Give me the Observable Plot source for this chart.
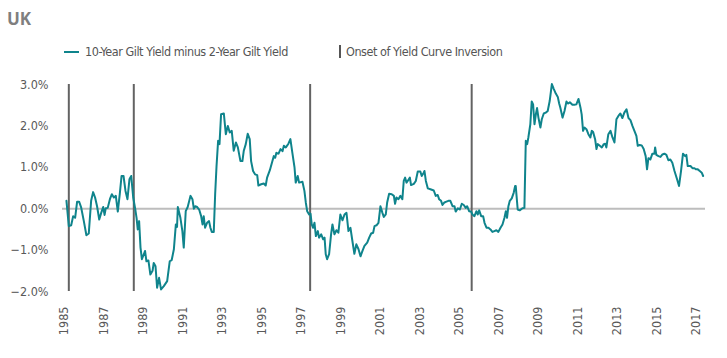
<!DOCTYPE html>
<html>
<head>
<meta charset="utf-8">
<script src="https://cdn.jsdelivr.net/npm/d3@7"></script>
<script src="https://cdn.jsdelivr.net/npm/@observablehq/plot@0.6"></script>
<style>
  html, body { margin: 0; padding: 0; background: #fff; }
  #wrap { position: relative; width: 727px; height: 358px; overflow: hidden;
          font-family: "Liberation Sans Narrow", "DejaVu Sans Condensed", "Arial Narrow", sans-serif; }
  #title { position: absolute; left: 7px; top: 7px; font-family: "Open Sans", "Liberation Sans", sans-serif;
           font-weight: 700; font-size: 17px; color: #7f7f7f; }
  .leg { position: absolute; top: 44px; font-size: 12.5px; letter-spacing: -0.45px; color: #555; white-space: nowrap; line-height: 16px; }
  .sw-line { display: inline-block; width: 15px; height: 2px; background: #0f848c; vertical-align: middle; margin-right: 6px; position: relative; top: -1px; }
  .sw-bar { display: inline-block; width: 2px; height: 13px; background: #555; vertical-align: middle; margin-right: 5px; position: relative; top: -1px; }
  #chart { position: absolute; left: 0; top: 70px; }
</style>
</head>
<body>
<div id="wrap">
  <div id="title">UK</div>
  <div class="leg" style="left:64px"><span class="sw-line"></span>10-Year Gilt Yield minus 2-Year Gilt Yield</div>
  <div class="leg" style="left:339px"><span class="sw-bar"></span>Onset of Yield Curve Inversion</div>
  <div id="chart"></div>
</div>
<script>
// Decimal year of each observation
const years = [
1985.10,1985.22,1985.34,1985.44,1985.54,1985.64,1985.74,1985.84,1985.98,1986.11,1986.23,1986.35,1986.45,1986.55,1986.65,1986.76,1986.86,1986.96,1987.03,1987.09,1987.19,1987.30,1987.40,1987.50,1987.60,1987.70,1987.80,1987.89,1987.99,1988.09,1988.19,1988.29,1988.38,1988.48,1988.58,1988.65,1988.71,1988.78,1988.85,1988.92,1989.02,1989.08,1989.15,1989.25,1989.35,1989.46,1989.52,
1989.61,1989.69,1989.79,1989.89,1990.03,1990.20,1990.33,1990.43,1990.54,1990.64,1990.70,1990.74,1990.87,1990.97,1991.04,1991.14,1991.24,1991.38,1991.48,1991.55,1991.62,1991.72,1991.82,1991.92,1991.99,1992.05,1992.12,1992.22,1992.32,1992.39,1992.46,1992.56,1992.63,1992.70,1992.78,1992.85,1992.93,1993.07,1993.17,1993.27,1993.37,1993.47,1993.57,1993.68,1993.78,1993.91,1994.01,1994.08,
1994.18,1994.28,1994.38,1994.45,1994.55,1994.65,1994.76,1994.82,1994.96,1995.09,1995.19,1995.26,1995.40,1995.53,1995.60,1995.67,1995.73,1995.84,1995.94,1996.04,1996.11,1996.21,1996.34,1996.44,1996.54,1996.65,1996.71,1996.81,1996.88,1997.05,1997.15,1997.22,1997.29,1997.39,1997.46,1997.52,1997.59,1997.66,1997.73,1997.83,1997.89,1998.00,1998.10,1998.17,1998.23,1998.30,1998.40,1998.50,1998.57,1998.67,
1998.77,1998.87,1998.97,1999.08,1999.18,1999.28,1999.38,1999.48,1999.58,1999.68,1999.78,1999.89,1999.99,2000.09,2000.19,2000.33,2000.43,2000.53,2000.63,2000.70,2000.80,2000.90,2001.00,2001.10,2001.17,2001.27,2001.34,2001.44,2001.57,2001.68,2001.74,2001.81,2001.91,2002.01,2002.11,2002.18,2002.25,2002.32,2002.38,2002.49,2002.55,2002.69,2002.79,2002.89,2003.02,2003.09,2003.19,
2003.23,2003.30,2003.40,2003.53,2003.70,2003.80,2003.90,2003.97,2004.07,2004.14,2004.24,2004.34,2004.44,2004.54,2004.65,2004.75,2004.81,2004.92,2005.02,2005.12,2005.22,2005.32,2005.39,2005.49,2005.59,2005.66,2005.76,2005.86,2005.93,2006.00,2006.10,2006.20,2006.27,2006.37,2006.47,2006.57,2006.67,2006.77,2006.87,2006.97,2007.08,2007.18,2007.28,2007.35,2007.41,2007.48,2007.55,2007.65,2007.75,2007.82,
2007.85,2007.95,2008.05,2008.19,2008.29,2008.36,2008.43,2008.49,2008.59,2008.66,2008.73,2008.80,2008.87,2008.93,2009.00,2009.10,2009.17,2009.27,2009.37,2009.47,2009.57,2009.68,2009.78,2009.88,2009.98,2010.05,2010.11,2010.22,2010.32,2010.42,2010.49,2010.59,2010.72,2010.82,2010.92,2011.03,2011.13,2011.19,2011.26,2011.33,2011.43,2011.53,2011.63,2011.70,2011.77,2011.87,2011.94,2012.00,2012.11,2012.21,2012.31,2012.38,
2012.44,2012.54,2012.65,2012.75,2012.85,2012.95,2013.05,2013.15,2013.25,2013.35,2013.46,2013.56,2013.66,2013.76,2013.86,2013.96,2014.03,2014.13,2014.23,2014.33,2014.43,2014.50,2014.57,2014.67,2014.77,2014.87,2014.91,2014.97,2015.08,2015.18,2015.28,2015.38,2015.48,2015.58,2015.68,2015.78,2015.89,2016.02,2016.12,2016.22,2016.32,2016.43,2016.49,2016.56,2016.70,2016.80,2016.90,2016.97,2017.07,2017.17,2017.27,2017.34
];
// 10-year minus 2-year gilt yield, percentage points
const spread = [
0.19,-0.42,-0.40,-0.18,-0.22,0.17,0.17,0.04,-0.30,-0.64,-0.60,0.19,0.40,0.27,0.06,-0.26,-0.10,0.04,-0.15,0.01,0.02,0.23,0.35,0.27,0.31,-0.07,0.35,0.79,0.79,0.43,0.23,0.71,0.79,0.27,0.00,-0.22,-0.50,-0.30,-0.94,-1.22,-1.10,-1.02,-1.27,-1.25,-1.59,-1.50,-1.31,
-1.39,-1.91,-1.67,-1.95,-1.87,-1.75,-1.27,-1.24,-0.98,-0.38,-0.44,0.04,-0.22,-0.54,-0.94,-0.06,0.04,0.31,0.23,0.00,0.06,0.04,-0.02,-0.18,-0.38,-0.18,-0.46,-0.34,-0.30,-0.46,-0.56,-0.56,0.35,1.03,1.64,1.56,2.28,2.30,1.80,2.00,1.84,1.88,1.40,1.60,1.48,1.15,1.15,1.40,
1.56,1.81,1.68,1.15,0.91,0.83,0.81,0.56,0.59,0.61,0.56,0.75,0.93,1.15,1.27,1.23,1.35,1.33,1.44,1.39,1.52,1.48,1.57,1.68,1.35,0.99,0.63,0.79,0.63,0.65,0.43,0.15,-0.06,-0.14,-0.12,-0.38,-0.46,-0.34,-0.66,-0.54,-0.70,-0.62,-0.74,-0.70,-1.10,-1.22,-1.10,-0.62,-0.38,-0.62,
-0.52,-0.58,-0.14,-0.28,-0.14,-0.10,-0.54,-0.46,-0.78,-1.09,-0.86,-0.98,-1.15,-1.02,-0.90,-0.82,-0.70,-0.60,-0.58,-0.42,-0.40,-0.34,0.06,-0.10,-0.20,-0.14,0.15,0.36,0.35,0.31,0.12,0.27,0.23,0.31,0.23,0.67,0.75,0.63,0.67,0.75,0.57,0.60,0.67,0.90,0.90,0.79,0.87,
0.91,0.67,0.49,0.47,0.44,0.31,0.33,0.23,0.19,0.09,0.15,0.17,0.19,0.19,0.06,0.06,-0.07,0.01,-0.02,0.12,0.09,0.02,0.06,-0.06,-0.07,-0.14,-0.18,-0.06,-0.14,-0.04,-0.18,-0.18,-0.34,-0.46,-0.46,-0.50,-0.56,-0.54,-0.52,-0.56,-0.46,-0.38,-0.22,-0.06,-0.22,0.06,0.19,0.25,0.39,0.55,
0.55,-0.02,-0.04,0.01,0.02,1.64,1.56,1.72,2.04,2.59,2.52,2.04,2.28,2.43,2.20,1.96,2.16,2.30,2.32,2.36,2.60,3.01,2.89,2.78,2.70,2.54,2.44,2.20,2.36,2.59,2.54,2.57,2.51,2.51,2.52,2.65,2.44,2.28,1.88,1.96,1.92,1.80,1.72,1.88,1.85,1.68,1.44,1.56,1.52,1.48,1.56,1.57,
1.48,1.80,1.88,1.72,1.60,2.16,2.24,2.30,2.19,2.32,2.40,2.19,2.14,2.00,1.88,1.76,1.52,1.54,1.53,1.44,1.27,0.95,1.22,1.19,1.33,1.33,1.48,1.30,1.27,1.25,1.31,1.33,1.30,1.17,1.19,1.11,0.91,0.71,0.55,0.91,1.33,1.27,1.30,1.03,1.03,0.98,0.98,0.95,0.95,0.91,0.87,0.79
];
// Onset of yield curve inversion (decimal years)
const inversionOnsets = [1985.22, 1988.51, 1997.44, 2005.62];
// Tick labels
const xTicks = [1985,1987,1989,1991,1993,1995,1997,1999,2001,2003,2005,2007,2009,2011,2013,2015,2017];
const yTicks = [-2, -1, 0, 1, 2, 3];

const data = years.map((y, i) => ({year: y, value: spread[i]}));
const fmtPct = d => (d < 0 ? "\u2212" : "") + Math.abs(d).toFixed(1) + "%";

const chart = Plot.plot({
  width: 727,
  height: 288,
  marginLeft: 62,
  marginRight: 22,
  marginTop: 14,
  marginBottom: 67,
  style: {fontFamily: '"Liberation Sans Narrow", "DejaVu Sans Condensed", sans-serif', fontSize: "12.5px", color: "#595959", background: "transparent"},
  x: {domain: [1984.9, 2017.46], ticks: xTicks, tickFormat: d => String(d), tickRotate: -90, tickSize: 0, tickPadding: 15, label: null},
  y: {domain: [-2, 3], ticks: yTicks, tickFormat: fmtPct, tickSize: 0, tickPadding: 14, label: null},
  marks: [
    Plot.ruleY([0], {stroke: "#bdbdbd", strokeWidth: 2}),
    Plot.ruleX(inversionOnsets, {stroke: "#636363", strokeWidth: 2}),
    Plot.line(data, {x: "year", y: "value", stroke: "#0f848c", strokeWidth: 2, curve: "linear"})
  ]
});
document.getElementById("chart").appendChild(chart);
</script>
</body>
</html>
